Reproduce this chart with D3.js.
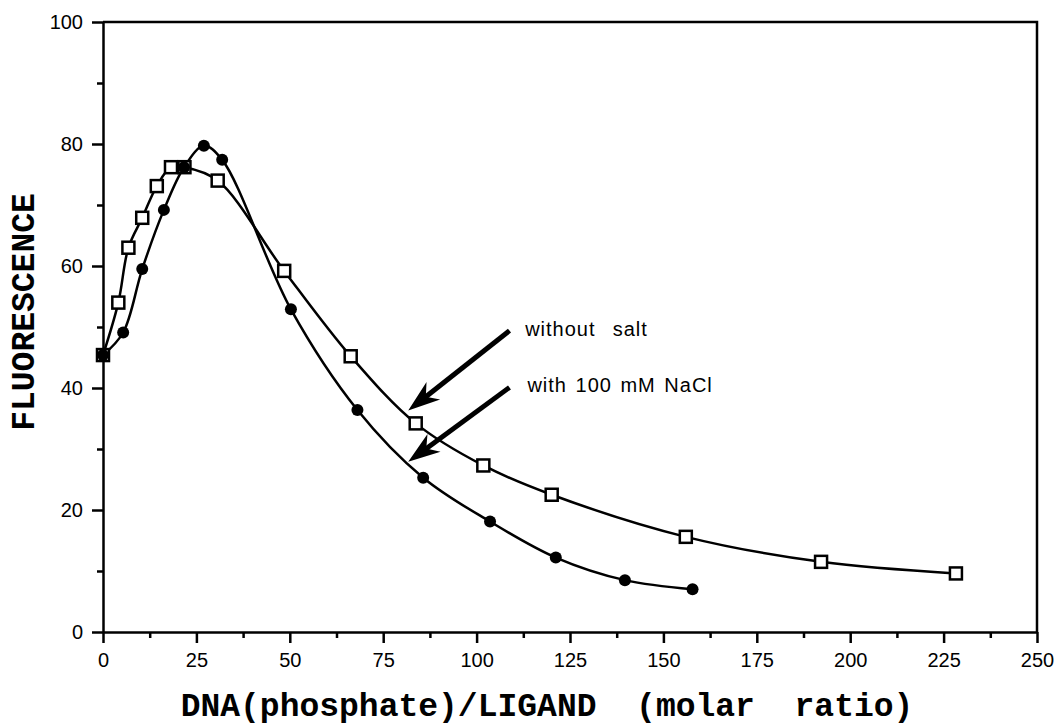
<!DOCTYPE html>
<meta charset="utf-8">
<style>
  body { margin: 0; background: #fff; }
  .tick text { fill: #000; }
</style>
<body>
<svg width="1060" height="727"></svg>
<script src="https://cdn.jsdelivr.net/npm/d3@7"></script>
<script>

// squares: without salt
var ratioNoSalt = [0, 4.1, 6.8, 10.5, 14.4, 18.2, 21.8, 30.7, 48.5, 66.3, 83.7, 101.8, 120.1, 156, 192.2, 228.3];
var fluorNoSalt = [45.4, 54.0, 63.0, 67.9, 73.1, 76.2, 76.2, 74.0, 59.2, 45.2, 34.2, 27.3, 22.5, 15.6, 11.5, 9.6];

// filled dots: with 100 mM NaCl
var ratioNaCl = [0, 5.4, 10.5, 16.3, 21.7, 27.0, 31.9, 50.3, 68.1, 85.7, 103.6, 121.2, 139.7, 157.8];
var fluorNaCl = [45.4, 49.1, 59.5, 69.2, 76.2, 79.7, 77.4, 52.9, 36.4, 25.3, 18.1, 12.2, 8.5, 7.0];

var xTicks = [0, 25, 50, 75, 100, 125, 150, 175, 200, 225, 250];
var xMinor = [12.5, 37.5, 62.5, 87.5, 112.5, 137.5, 162.5, 187.5, 212.5, 237.5];
var yTicks = [0, 20, 40, 60, 80, 100];
var yMinor = [10, 30, 50, 70, 90];

// annotations: label, text anchor point, arrow tail, arrow tip (data units)
var notes = [
    {label: "without  salt",   tx: 113, ty: 49.6, x1: 108.8, y1: 49.4, x2: 81.7, y2: 36.3},
    {label: "with 100 mM NaCl", tx: 113.6, ty: 40.5, x1: 108.8, y1: 40.1, x2: 81.7, y2: 27.9}
];

var svg = d3.select("svg");

var x = d3.scaleLinear().domain([0, 250]).range([103, 1037]);
var y = d3.scaleLinear().domain([0, 100]).range([632, 22]);

var ink = "#000";

// minor ticks first
svg.append("g")
    .attr("transform", "translate(" + x(0) + ",0)")
    .call(d3.axisLeft(y).tickValues(yMinor).tickSize(6).tickFormat(""))
    .call(function (g) { g.select(".domain").remove(); })
    .selectAll("line").attr("stroke-width", 2.5);

svg.append("g")
    .attr("transform", "translate(0," + y(0) + ")")
    .call(d3.axisBottom(x).tickValues(xMinor).tickSize(6).tickFormat(""))
    .call(function (g) { g.select(".domain").remove(); })
    .selectAll("line").attr("stroke-width", 2.5);

// y axis
var gy = svg.append("g")
    .attr("transform", "translate(" + x(0) + ",0)")
    .call(d3.axisLeft(y).tickValues(yTicks).tickSize(11).tickSizeOuter(0).tickPadding(9));
gy.select(".domain").attr("stroke-width", 2.5);
gy.selectAll(".tick line").attr("stroke-width", 2.5);
gy.selectAll(".tick text")
    .style("font-family", "'Liberation Sans', Arial, sans-serif")
    .style("font-size", "20px");

// x axis
var gx = svg.append("g")
    .attr("transform", "translate(0," + y(0) + ")")
    .call(d3.axisBottom(x).tickValues(xTicks).tickSize(11).tickSizeOuter(0).tickPadding(10));
gx.select(".domain").attr("stroke-width", 2.5);
gx.selectAll(".tick line").attr("stroke-width", 2.5);
gx.selectAll(".tick text")
    .style("font-family", "'Liberation Sans Narrow', 'Liberation Sans', Arial, sans-serif")
    .style("font-size", "20px");

// top and right frame
svg.append("path")
    .attr("d", "M" + x(0) + "," + y(100) + "H" + x(250) + "V" + y(0))
    .attr("fill", "none")
    .attr("stroke", ink)
    .attr("stroke-width", 2.5);

// axis titles
svg.append("text")
    .attr("x", 547)
    .attr("y", 716)
    .attr("text-anchor", "middle")
    .style("font-family", "'Liberation Mono', 'Courier New', monospace")
    .style("font-weight", "bold")
    .style("font-size", "33px")
    .style("white-space", "pre")
    .text("DNA(phosphate)/LIGAND  (molar  ratio)");

svg.append("text")
    .attr("transform", "translate(34,312) rotate(-90)")
    .attr("text-anchor", "middle")
    .style("font-family", "'Liberation Mono', 'Courier New', monospace")
    .style("font-weight", "bold")
    .style("font-size", "33px")
    .text("FLUORESCENCE");

// curves
var line = d3.line()
    .x(function (d) { return x(d[0]); })
    .y(function (d) { return y(d[1]); })
    .curve(d3.curveCatmullRom.alpha(0.5));

var noSalt = d3.zip(ratioNoSalt, fluorNoSalt);
var naCl = d3.zip(ratioNaCl, fluorNaCl);

svg.append("path").datum(naCl)
    .attr("d", line).attr("fill", "none").attr("stroke", ink).attr("stroke-width", 2.5);
svg.append("path").datum(noSalt)
    .attr("d", line).attr("fill", "none").attr("stroke", ink).attr("stroke-width", 2.5);

svg.selectAll(".sq")
    .data(noSalt)
    .enter().append("rect")
    .attr("class", "sq")
    .attr("x", function (d) { return x(d[0]) - 6; })
    .attr("y", function (d) { return y(d[1]) - 6; })
    .attr("width", 12)
    .attr("height", 12)
    .attr("fill", "#fff")
    .attr("stroke", ink)
    .attr("stroke-width", 2.5);

svg.selectAll(".dot")
    .data(naCl)
    .enter().append("circle")
    .attr("class", "dot")
    .attr("cx", function (d) { return x(d[0]); })
    .attr("cy", function (d) { return y(d[1]); })
    .attr("r", 6)
    .attr("fill", ink);

// arrows + labels
notes.forEach(function (n) {
    var ax = x(n.x1), ay = y(n.y1), bx = x(n.x2), by = y(n.y2);
    var dx = ax - bx, dy = ay - by, len = Math.sqrt(dx * dx + dy * dy);
    var ux = dx / len, uy = dy / len, px = -uy, py = ux;
    var L = 32, W = 11;
    svg.append("line")
        .attr("x1", ax).attr("y1", ay)
        .attr("x2", bx + ux * L * 0.6).attr("y2", by + uy * L * 0.6)
        .attr("stroke", ink).attr("stroke-width", 5);
    var head = [
        [bx, by],
        [bx + ux * L + px * W, by + uy * L + py * W],
        [bx + ux * L * 0.7, by + uy * L * 0.7],
        [bx + ux * L - px * W, by + uy * L - py * W]
    ];
    svg.append("polygon")
        .attr("points", head.map(function (p) { return p.join(","); }).join(" "))
        .attr("fill", ink);
    svg.append("text")
        .attr("x", x(n.tx))
        .attr("y", y(n.ty))
        .attr("dy", "0.35em")
        .style("font-family", "'Liberation Sans', Arial, sans-serif")
        .style("font-size", "20px")
        .style("letter-spacing", "1px")
        .style("word-spacing", "2px")
        .style("white-space", "pre")
        .text(n.label);
});

</script>
</body>
